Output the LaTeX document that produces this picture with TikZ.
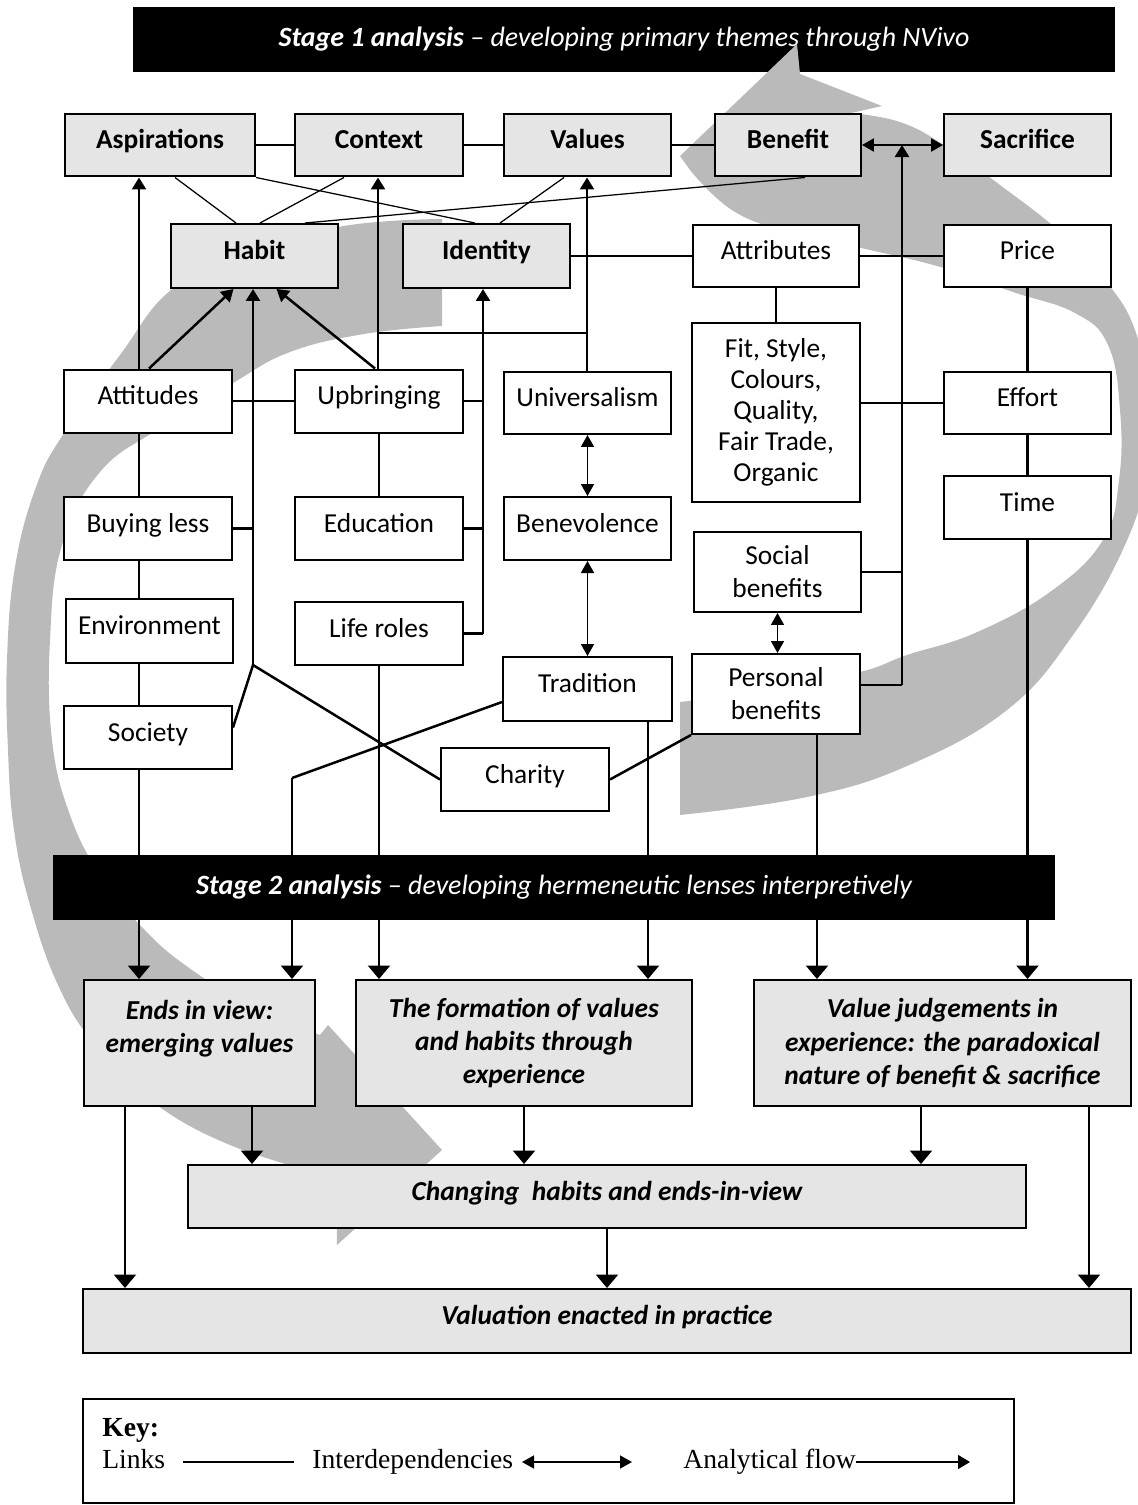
\documentclass[tikz,border=0pt]{standalone}
\usepackage{fontspec}
\setmainfont{Carlito}
\newfontfamily\keyfont{Liberation Serif}
\usetikzlibrary{arrows.meta, calc}
\pgfdeclarelayer{spiral}
\pgfdeclarelayer{links}
\pgfsetlayers{spiral,links,main}
\newcommand\dfont{\fontsize{15.6}{18.8}\selectfont}
\newcommand\kfont{\keyfont\fontsize{15.7}{18.5}\selectfont}
\newcommand\lstrut{\rule[-7pt]{0pt}{18.4pt}}
\tikzset{
  tbox/.style={draw, line width=0.04cm, fill=gray!20, font=\dfont\bfseries, align=center,
               minimum width=3.36cm, minimum height=1.26cm, inner sep=1pt, execute at begin node=\lstrut},
  cell/.style={draw, line width=0.04cm, fill=white, font=\dfont, align=center,
               minimum width=3.36cm, minimum height=1.26cm, inner sep=1pt},
  cbox/.style={cell, execute at begin node=\lstrut},
  lbox/.style={draw, line width=0.04cm, fill=gray!20, font=\dfont\bfseries\itshape, align=center,
               minimum height=2.52cm, inner sep=1pt},
  sbar/.style={fill=black, text=white, font=\fontsize{15.9}{18.8}\selectfont\itshape, minimum height=1.3cm, inner sep=0pt},
  lnk/.style={line width=0.05cm},
  thn/.style={line width=0.025cm},
  flw/.style={-{Triangle[length=0.24cm,width=0.28cm]}, line width=0.05cm},
  flwl/.style={-{Triangle[length=0.27cm,width=0.44cm]}, line width=0.05cm},
  dep/.style={{Triangle[length=0.24cm,width=0.26cm]}-{Triangle[length=0.24cm,width=0.26cm]}, line width=0.03cm},
  spir/.style={fill=black!27},
  keytxt/.style={font=\kfont, anchor=base west, inner sep=0pt},
}

\begin{document}
\begin{tikzpicture}[x=0.02cm, y=-0.02cm]
  \useasboundingbox (0,0) rectangle (1137,1505);

  % stage 1 heading and the grey spiral under everything
  \begin{pgfonlayer}{spiral}
    \node[sbar, minimum width=19.64cm] (stone) at (624,39.5) {\textbf{Stage 1 analysis} -- developing primary themes through NVivo};
    \fill[spir] plot[smooth, tension=0.7] coordinates {(442,219) (338,227) (240,258) (171,290) (120,355) (64,433) (36,487) (15,567) (7,660) (8,750) (14,830) (30,905) (58,985) (95,1045) (150,1100) (230,1145) (336,1178)}
      -- (337,1245) -- (442,1150) -- (328,1025)
      -- plot[smooth, tension=0.7] coordinates {(320,1035) (250,1005) (185,965) (140,925) (100,875) (70,815) (52,740) (50,640) (62,545) (100,472) (160,428) (233,383) (290,352) (364,334) (442,326)}
      -- cycle;
    \fill[spir] plot[smooth, tension=0.7] coordinates {(680,815) (807,797) (907,766) (1007,710) (1073,635) (1125,545) (1147,470) (1148,400) (1135,330) (1105,280) (1060,232) (1000,185) (944,145) (900,122) (851,113)}
      -- (882,106) -- (800,74) -- (797,44) -- (680,156)
      -- plot[smooth, tension=0.7] coordinates {(690,170) (735,212) (800,235) (870,250) (944,268) (1013,292) (1075,313) (1108,345) (1120,410) (1119,480) (1103,540) (1050,592) (975,633) (907,655) (860,672) (770,690) (680,702)}
      -- cycle;
  \end{pgfonlayer}

  % primary themes
  \node[tbox, minimum width=3.8cm]  (asp) at (160,145) {Aspirations};
  \node[tbox]                       (ctx) at (379,145) {Context};
  \node[tbox, minimum width=3.34cm] (val) at (587.5,145) {Values};
  \node[tbox, minimum width=2.92cm] (ben) at (788,145) {Benefit};
  \node[tbox, minimum width=3.34cm] (sac) at (1027.5,145) {Sacrifice};
  \node[tbox, minimum width=3.34cm, minimum height=1.28cm] (habit) at (254.5,256) {Habit};
  \node[tbox, minimum width=3.34cm, minimum height=1.28cm] (ident) at (486.5,256) {Identity};
  % codes
  \node[cbox, minimum width=3.32cm, minimum height=1.24cm] (attr)  at (776,256) {Attributes};
  \node[cbox, minimum width=3.34cm, minimum height=1.24cm] (price) at (1027.5,256) {Price};
  \node[cbox]                       (att)  at (148,401) {Attitudes};
  \node[cbox]                       (upb)  at (379,401) {Upbringing};
  \node[cbox, minimum width=3.34cm, minimum height=1.24cm] (univ) at (587.5,403) {Universalism};
  \node[cell, minimum height=3.58cm, font=\fontsize{15.6}{17.6}\selectfont] (fit) at (776,412.5) {Fit, Style,\\Colours,\\Quality,\\Fair Trade,\\Organic};
  \node[cbox, minimum width=3.34cm, minimum height=1.24cm] (effort) at (1027.5,403) {Effort};
  \node[cbox]                       (buy)  at (148,528.5) {Buying less};
  \node[cbox]                       (edu)  at (379,528.5) {Education};
  \node[cbox, minimum width=3.34cm] (bene) at (587.5,528.5) {Benevolence};
  \node[cbox, minimum width=3.34cm] (time) at (1027.5,507.5) {Time};
  \node[cell, minimum width=3.34cm, minimum height=1.6cm] (social) at (777.5,572) {Social\\benefits};
  \node[cbox, minimum width=3.34cm, minimum height=1.28cm] (env) at (149.5,631) {Environment};
  \node[cbox]                       (life) at (379,633.5) {Life roles};
  \node[cbox, minimum width=3.38cm, minimum height=1.28cm] (trad) at (587.5,689) {Tradition};
  \node[cell, minimum height=1.6cm] (pers) at (776,694) {Personal\\benefits};
  \node[cbox]                       (soc)  at (148,737.5) {Society};
  \node[cbox]                       (char) at (525,779.5) {Charity};
  % stage 2 lenses
  \node[sbar, minimum width=20.04cm] (sttwo) at (554,887.5) {\textbf{Stage 2 analysis} -- developing hermeneutic lenses interpretively};
  \node[lbox, minimum width=4.62cm] (ends)  at (199.5,1043) {Ends in view:\\emerging values\\\mbox{}};
  \node[lbox, minimum width=6.72cm] (form)  at (524,1043) {The formation of values\\and habits through\\experience};
  \node[lbox, minimum width=7.54cm] (judge) at (942.5,1043) {Value judgements in\\experience: the paradoxical\\nature of benefit \& sacrifice};
  \node[lbox, minimum width=16.76cm, minimum height=1.26cm, execute at begin node=\lstrut] (chg)  at (607,1196.5) {Changing~ habits and ends-in-view};
  \node[lbox, minimum width=20.96cm, minimum height=1.28cm, execute at begin node=\lstrut] (valu) at (607,1321) {Valuation enacted in practice};

  % bus points
  \coordinate (ax) at (139,0);
  \coordinate (hj) at (253,665);
  \coordinate (ux) at (378,333);
  \coordinate (vx) at (587,333);
  \coordinate (ij) at (483,633.5);
  \coordinate (bj) at (902,685);
  \coordinate (tj) at (292,778);
  \coordinate (tx) at (648,0);
  \coordinate (px) at (817,0);
  \coordinate (lx) at (125,0);
  \coordinate (cx) at (252,0);
  \coordinate (rx) at (921,0);
  \coordinate (fx) at (1089,0);

  \begin{pgfonlayer}{links}
    % theme row
    \draw[lnk] (asp) -- (ctx);
    \draw[lnk] (ctx) -- (val);
    \draw[lnk] (val) -- (ben);
    \draw[dep, line width=0.045cm] (ben) -- (sac);
    \draw[thn] ($(asp.south)+(15,0)$) -- ($(habit.north)+(-18.5,0)$);
    \draw[thn] (asp.south east) -- ($(ident.north)+(-11.5,0)$);
    \draw[thn] ($(ctx.south)+(-35,0)$) -- ($(habit.north)+(5.5,0)$);
    \draw[thn] ($(val.south)+(-23.5,0)$) -- ($(ident.north)+(13.5,0)$);
    \draw[thn] ($(ben.south)+(17,0)$) -- ($(habit.north)+(50.5,0)$);
    % left column
    \draw[flw] (att.north -| ax) -- (asp.south -| ax);
    \draw[lnk] (att.south -| ax) -- (buy.north -| ax);
    \draw[lnk] (buy.south -| ax) -- (env.north -| ax);
    \draw[lnk] (env.south -| ax) -- (soc.north -| ax);
    % habit bus
    \draw[flw] ($(att.north)+(1,0)$) -- ($(habit.south)+(-21,0)$);
    \draw[flw] (hj) -- (habit.south -| hj);
    \draw[flw] ($(upb.north)+(-4,0)$) -- ($(habit.south)+(22,0)$);
    \draw[lnk] (att) -- (upb);
    \draw[lnk] (buy.east) -- (buy.east -| hj);
    \draw[lnk] ($(soc.east)+(0,-10)$) -- (hj) -- (char.west);
    % context and values
    \draw[flw] (upb.north -| ux) -- (ctx.south -| ux);
    \draw[lnk] (ux) -- (vx);
    \draw[flw] (univ.north -| vx) -- (val.south -| vx);
    \draw[lnk] (upb) -- (edu);
    % identity bus
    \draw[flw] (ij) -- (ident.south -| ij);
    \draw[lnk] (upb.east) -- (upb.east -| ij);
    \draw[lnk] (edu.east) -- (edu.east -| ij);
    \draw[lnk] (life.east) -- (ij);
    \draw[lnk] (ident) -- (attr);
    % attributes and sacrifice
    \draw[lnk] (attr) -- (price);
    \draw[lnk] (attr) -- (fit);
    \draw[lnk] (price) -- (effort);
    \draw[lnk] (effort) -- (time);
    \draw[lnk] (effort.west) -- (effort.west -| fit.east);
    % benefit bus
    \draw[flw] (bj) -- (ben.east -| bj);
    \draw[lnk] (bj -| pers.east) -- (bj);
    \draw[lnk] (social.east) -- (social.east -| bj);
    % interdependencies
    \draw[dep] (univ) -- (bene);
    \draw[dep] (bene) -- (trad);
    \draw[dep] (social.south) -- (social.south |- pers.north);
    % tradition and charity
    \draw[lnk] ($(trad.west)+(0,13)$) -- (tj);
    \draw[lnk] (char.east) -- (pers.south west);
    % into the lenses
    \draw[flwl] (soc.south -| ax) -- (ends.north -| ax);
    \draw[flwl] (tj) -- (ends.north -| tj);
    \draw[flwl] (life.south) -- (life.south |- form.north);
    \draw[flwl] (trad.south -| tx) -- (form.north -| tx);
    \draw[flwl] (pers.south -| px) -- (judge.north -| px);
    \draw[flwl] (time.south) -- (time.south |- judge.north);
    % towards practice
    \draw[flwl] (ends.south -| lx) -- (valu.north -| lx);
    \draw[flwl] (ends.south -| cx) -- (chg.north -| cx);
    \draw[flwl] (form.south) -- (form.south |- chg.north);
    \draw[flwl] (judge.south -| rx) -- (chg.north -| rx);
    \draw[flwl] (judge.south -| fx) -- (valu.north -| fx);
    \draw[flwl] (chg.south) -- (chg.south |- valu.north);
  \end{pgfonlayer}

  % key
  \node[draw, line width=0.03cm, minimum width=18.62cm, minimum height=2.08cm] (key) at (548.5,1451) {};
  \node[keytxt, font=\kfont\bfseries] (khead) at (102,1436) {Key:};
  \node[keytxt] (klink) at (102,1468) {Links};
  \node[keytxt] (kdep)  at (312,1468) {Interdependencies};
  \node[keytxt] (kflow) at (683,1468) {Analytical flow};
  \coordinate (ka) at (183,1462);
  \coordinate (kb) at (294,1462);
  \coordinate (kc) at (522,1462);
  \coordinate (kd) at (632,1462);
  \coordinate (ke) at (856,1462);
  \coordinate (kf) at (970,1462);
  \draw[lnk] (ka) -- (kb);
  \draw[dep] (kc) -- (kd);
  \draw[flw, line width=0.03cm] (ke) -- (kf);
\end{tikzpicture}
\end{document}
